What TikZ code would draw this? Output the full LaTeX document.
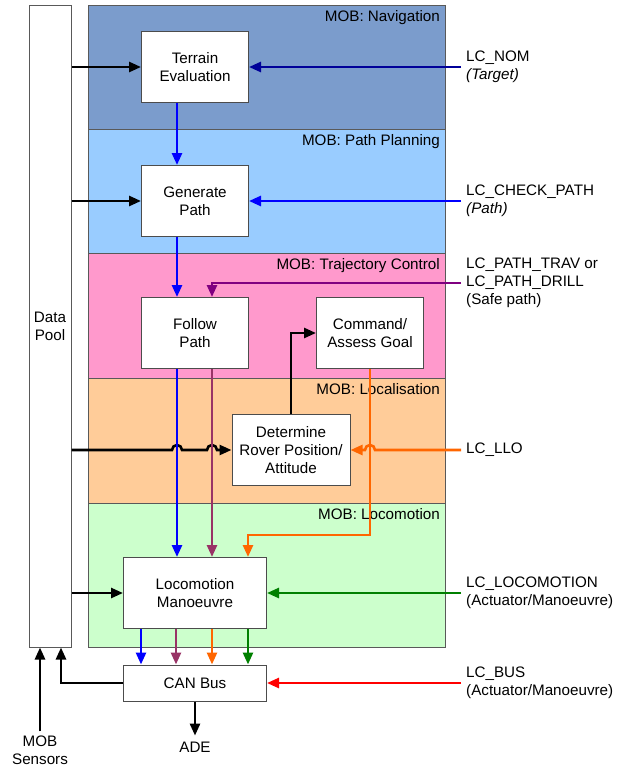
\documentclass[tikz,border=0pt]{standalone}
\usepackage{fontspec}
\setmainfont{Liberation Sans}
\usepackage{tikz}
\usetikzlibrary{
  arrows.meta,
  positioning
}
\definecolor{navband}{RGB}{123,156,204}
\definecolor{planband}{RGB}{153,204,255}
\definecolor{trajband}{RGB}{255,153,204}
\definecolor{locband}{RGB}{255,204,153}
\definecolor{motband}{RGB}{204,255,204}
\definecolor{navyline}{RGB}{0,0,153}
\definecolor{purpline}{RGB}{128,0,128}
\definecolor{mauveline}{RGB}{153,51,102}
\definecolor{orangeline}{RGB}{255,102,0}
\definecolor{greenline}{RGB}{0,128,0}

\begin{document}
\begin{tikzpicture}[
            x=1pt, y=-1pt,
            every node/.style={font=\fontsize{15.2}{18}\selectfont},
            band/.style={draw=black!65, line width=1pt, outer sep=0pt, inner sep=0pt, minimum width=357pt},
            blk/.style={draw=black!70, fill=white, line width=1pt, align=center, inner sep=0pt, minimum width=107pt, minimum height=71pt},
            tag/.style={anchor=north east, inner sep=5pt},
            sig/.style={anchor=west, align=left, inner sep=5pt},
            flow/.style={line width=2.6pt, -{Triangle[length=12pt,width=10pt]}}
        ]
            \useasboundingbox (0,0) rectangle (624,766);
            % Data Pool
            \node[draw=black!65, fill=white, line width=1pt, minimum width=42pt, minimum height=642pt, align=center, inner sep=0pt] (pool) at (50,326) {
                Data\\Pool
            };
            % MOB layers
            \node[band, fill=navband, minimum height=124pt, anchor=north west] (nav) at (88,5) {};
            \node[band, fill=planband, minimum height=124pt, below=0pt of nav] (plan) {};
            \node[band, fill=trajband, minimum height=125pt, below=0pt of plan] (traj) {};
            \node[band, fill=locband, minimum height=125pt, below=0pt of traj] (loc) {};
            \node[band, fill=motband, minimum height=144pt, below=0pt of loc] (mot) {};
            \node[tag] (navtag) at (nav.north east) {MOB: Navigation};
            \node[tag] (plantag) at (plan.north east) {MOB: Path Planning};
            \node[tag] (trajtag) at (traj.north east) {MOB: Trajectory Control};
            \node[tag] (loctag) at (loc.north east) {MOB: Localisation};
            \node[tag] (mottag) at (mot.north east) {MOB: Locomotion};
            % Functions
            \node[blk] (terrain) at (195,67) {Terrain\\Evaluation};
            \node[blk] (gen) at (195,201) {Generate\\Path};
            \node[blk] (follow) at (195,333) {Follow\\Path};
            \node[blk] (cmd) at (370,333) {Command/\\Assess Goal};
            \node[blk, minimum width=118pt] (det) at (291,450) {Determine\\Rover Position/\\Attitude};
            \node[blk, minimum width=143pt] (loco) at (195,593) {Locomotion\\Manoeuvre};
            \node[blk, minimum width=143pt, minimum height=36pt] (can) at (195,683) {CAN Bus};
            % Telecommands
            \node[sig] (nom) at (461,67) {LC\_NOM\\\textit{(Target)}};
            \node[sig] (chk) at (461,201) {LC\_CHECK\_PATH\\\textit{(Path)}};
            \node[sig] (safe) at (461,283) {LC\_PATH\_TRAV or\\LC\_PATH\_DRILL\\(Safe path)};
            \node[sig] (llo) at (461,450) {LC\_LLO};
            \node[sig] (locsig) at (461,593) {LC\_LOCOMOTION\\(Actuator/Manoeuvre)};
            \node[sig] (bus) at (461,683) {LC\_BUS\\(Actuator/Manoeuvre)};
            \node[inner sep=4pt, align=center] (sensors) at (40,750) {MOB\\Sensors};
            \node[inner sep=6pt] (ade) at (195,747) {ADE};
            % from Data Pool
            \draw[flow] (terrain.west -| pool.east) -- (terrain.west);
            \draw[flow] (gen.west -| pool.east) -- (gen.west);
            \draw[flow] (det.west -| pool.east) -- (172,450) arc[start angle=180, end angle=0, radius=5pt]
                -- (207,450) arc[start angle=180, end angle=0, radius=5pt] -- (det.west);
            \draw[flow] (loco.west -| pool.east) -- (loco.west);
            % telecommand inputs
            \draw[flow, navyline] (terrain.east -| nom.west) -- (terrain.east);
            \draw[flow, blue] (gen.east -| chk.west) -- (gen.east);
            \draw[flow, purpline] (safe.west) -| ([xshift=17pt]follow.north);
            \draw[flow, orangeline] (det.east -| llo.west) -- (375,450) arc[start angle=0, end angle=180, radius=5pt] -- (det.east);
            \draw[flow, greenline] (loco.east -| locsig.west) -- (loco.east);
            \draw[flow, red] (can.east -| bus.west) -- (can.east);
            % internal flows
            \draw[flow, blue] ([xshift=-18pt]terrain.south) -- ([xshift=-18pt]gen.north);
            \draw[flow, blue] ([xshift=-18pt]gen.south) -- ([xshift=-18pt]follow.north);
            \draw[flow, blue] ([xshift=-18pt]follow.south) -- ([xshift=-18pt]loco.north);
            \draw[flow, mauveline] ([xshift=17pt]follow.south) -- ([xshift=17pt]loco.north);
            \draw[flow] (det.north) |- (cmd.west);
            \draw[flow, orangeline] (cmd.south) -- ++(0,166) -| ([xshift=53pt]loco.north);
            % to CAN Bus
            \draw[flow, blue] ([xshift=-54pt]loco.south) -- ([xshift=-54pt]can.north);
            \draw[flow, mauveline] ([xshift=-19pt]loco.south) -- ([xshift=-19pt]can.north);
            \draw[flow, orangeline] ([xshift=17pt]loco.south) -- ([xshift=17pt]can.north);
            \draw[flow, greenline] ([xshift=53pt]loco.south) -- ([xshift=53pt]can.north);
            % outputs
            \draw[flow] (can.west) -| ([xshift=11pt]pool.south);
            \draw[flow] (sensors.north) -- (sensors.north |- pool.south);
            \draw[flow] (can.south) -- (ade.north);
        \end{tikzpicture}
\end{document}
